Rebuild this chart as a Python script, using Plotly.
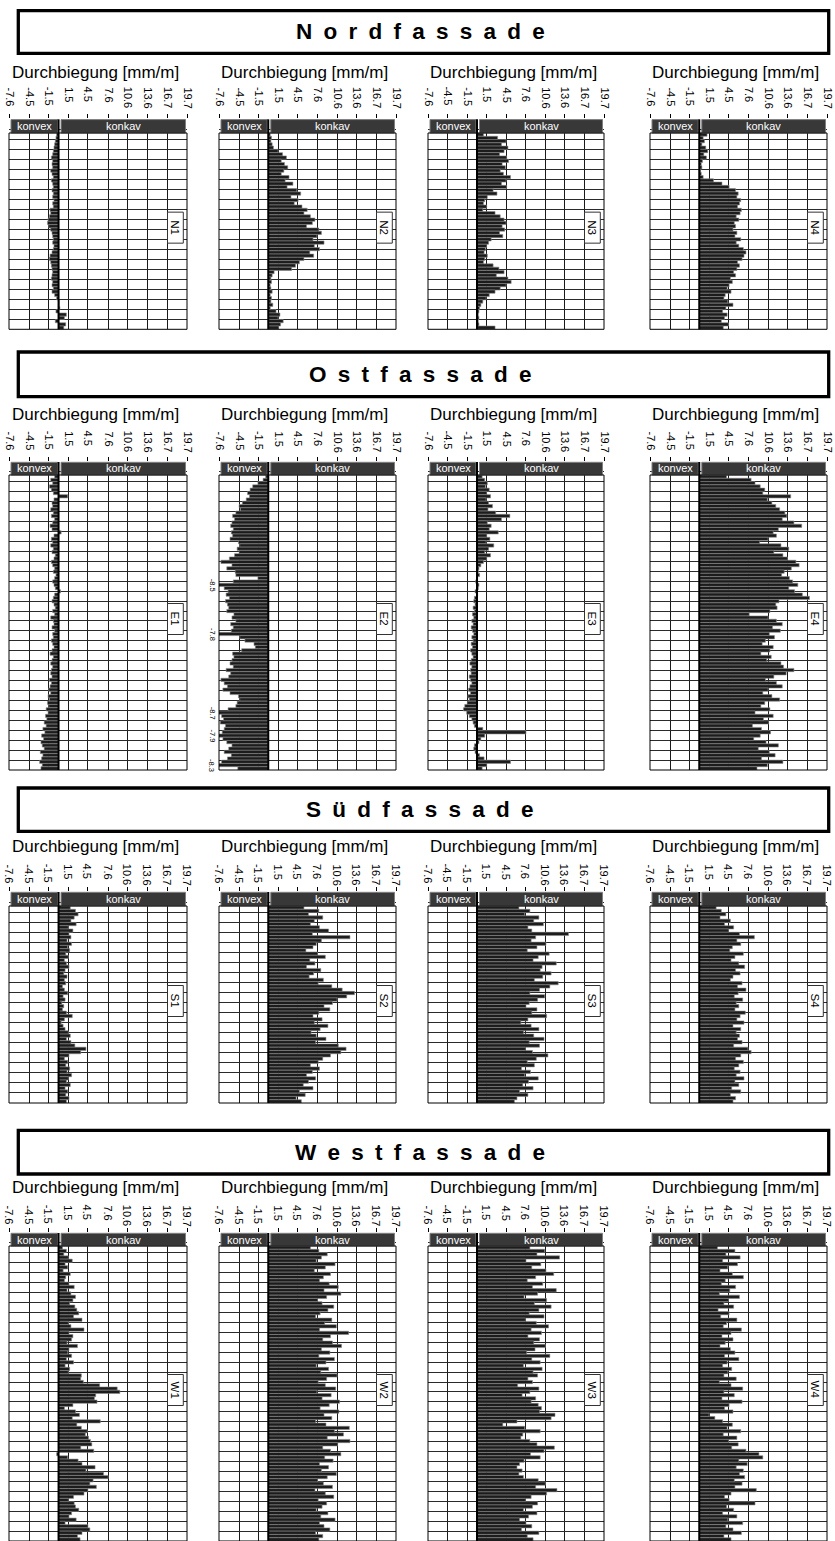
import plotly.graph_objects as go

# ---------------- data ----------------
TICK_VALUES = [-7.6, -4.5, -1.5, 1.5, 4.5, 7.6, 10.6, 13.6, 16.7, 19.7]
TICK_LABELS = ["-7.6", "-4.5", "-1.5", "1.5", "4.5", "7.6", "10.6", "13.6", "16.7", "19.7"]
X_RANGE = [-7.6, 19.7]
FACADES = ["Nordfassade", "Ostfassade", "Südfassade", "Westfassade"]
PANELS = [["N1", "N2", "N3", "N4"], ["E1", "E2", "E3", "E4"],
          ["S1", "S2", "S3", "S4"], ["W1", "W2", "W3", "W4"]]
AXIS_TITLE = "Durchbiegung [mm/m]"
ZONE_LABELS = ["konvex", "konkav"]

N1 = [-0.3, -0.4, -0.5, -0.6, -0.7, -0.8, -0.9, -1.1, -0.9, -1.0,
      -0.9, -1.2, -1.0, -0.8, -1.1, -0.9, -0.8, -1.0, -0.8, -0.9,
      -0.7, -0.9, -0.8, -1.3, -1.2, -1.4, -1.6, -1.7, -1.5, -1.2,
      -1.0, -0.9, -0.8, -0.9, -0.7, -0.8, -1.0, -1.3, -1.4, -1.2,
      -1.1, -1.0, -0.9, -1.0, -1.1, -0.9, -1.0, -0.8, -1.0, -0.6,
      -0.3, 0.1, 0.1, 0.2, -0.4, 1.2, 0.9, -0.5, 1.1, 0.8]
N2 = [0.3, 0.5, 0.4, 0.6, 0.8, 1.5, 2.2, 2.8, 2.0, 2.5,
      3.0, 2.4, 2.0, 3.2, 2.6, 3.8, 2.9, 4.4, 5.0, 3.5,
      4.6, 4.0, 5.2, 6.0, 5.5, 6.5, 7.2, 6.8, 5.9, 7.8,
      8.2, 7.5, 6.9, 8.6, 7.1, 7.9, 6.4, 7.0, 5.5, 4.8,
      4.2, 3.6, 0.9, 0.6, 0.4, 0.5, 0.3, 0.4, 0.6, 0.3,
      0.5, 0.4, 0.7, 0.3, 1.2, 1.8, 1.5, 2.3, 1.9, 1.6]
N3 = [1.0, 3.2, 4.5, 3.8, 4.8, 4.2, 3.5, 4.6, 4.9, 3.9,
      4.4, 3.6, 4.1, 5.2, 4.5, 3.8, 4.6, 2.5, 3.1, 1.6,
      1.2, 1.0, 1.5, 0.9, 2.8, 3.6, 4.2, 4.5, 3.9, 4.3,
      3.5, 4.0, 2.2, 1.8, 1.5, 1.3, 1.1, 1.6, 1.2, 1.0,
      2.5, 3.4, 4.2, 3.0, 4.8, 5.3, 4.5, 3.6, 2.8, 1.9,
      1.4, 0.9, 0.6, 0.4, 0.3, 0.2, 0.3, 0.2, 0.3, 2.8]
N4 = [1.2, 0.6, 0.8, 0.4, 1.0, 1.3, 0.7, 1.1, 0.5, 0.3,
      0.4, 0.2, 0.3, 0.6, 2.2, 3.5, 4.6, 5.6, 6.0, 5.8,
      6.4, 6.2, 5.9, 6.5, 6.3, 5.7, 6.1, 5.4, 5.6, 5.2,
      5.8, 5.5, 6.4, 5.7, 6.1, 6.8, 7.2, 6.9, 6.6, 5.9,
      6.2, 5.8, 5.3, 5.6, 4.8, 5.1, 4.6, 4.3, 4.9, 4.0,
      3.8, 4.4, 5.2, 4.1, 3.6, 4.3, 3.9, 3.4, 4.5, 3.7]

E1 = [-0.6, -1.2, -0.9, -1.4, -1.1, -0.8, 1.4, -0.7, -1.0, -0.9,
      -1.2, -0.8, -1.1, -0.6, -0.9, -1.3, -1.0, 0.4, -0.7, -1.1,
      -0.9, -1.2, -0.8, -1.0, -0.5, -0.7, -1.1, -0.9, -0.6, -0.8,
      -0.4, -0.6, -0.9, -0.7, -0.5, 0.3, -0.6, -0.8, -1.0, -0.7,
      -0.5, -0.9, -0.6, -1.2, -0.8, -0.7, -1.0, -0.6, -0.9, -0.8,
      -1.1, -0.9, -0.7, -1.0, -1.3, -0.8, -1.0, -1.2, -0.9, -1.1,
      -1.2, -1.0, -1.4, -1.1, -1.3, -1.5, -1.2, -1.6, -1.4, -1.7,
      -1.5, -1.9, -1.6, -2.0, -1.8, -2.2, -1.9, -2.4, -2.1, -2.6,
      -2.3, -2.7, -2.5, -2.2, -2.8, -2.4, -2.6, -2.9, -2.5, -2.7]
E2 = [-0.4, -0.8, -1.6, -2.4, -2.8, -3.2, -2.9, -3.4, -4.0, -4.5,
      -4.3, -5.0, -5.5, -5.2, -5.6, -5.8, -5.4, -5.7, -5.5, -5.9,
      -4.6, -4.4, -4.8, -4.5, -5.2, -6.0, -7.3, -5.6, -6.4, -5.1,
      -5.0, -1.6, -5.4, -8.5, -6.8, -6.2, -6.5, -6.0, -6.6, -6.3,
      -6.1, -6.4, -5.3, -5.6, -5.0, -5.8, -5.4, -5.7, -7.8, -4.4,
      -3.6, -2.2, -2.0, -4.1, -5.5, -5.3, -5.6, -5.9, -5.4, -6.5,
      -5.8, -6.1, -7.3, -6.8, -6.3, -7.0, -5.9, -4.6, -4.4, -4.8,
      -5.0, -6.2, -8.7, -7.2, -6.9, -7.4, -6.6, -6.8, -7.1, -7.9,
      -7.0, -6.4, -5.6, -6.1, -6.8, -5.7, -6.3, -7.2, -8.3, -4.7]
E3 = [0.8, 1.2, 1.6, 1.3, 1.9, 1.5, 2.1, 1.4, 1.8, 2.4,
      1.7, 2.9, 5.1, 3.8, 1.6, 2.2, 1.9, 3.3, 1.5, 2.0,
      1.4, 2.6, 1.8, 1.2, 2.1, 1.5, 1.0, 0.6, 0.3, 0.2,
      0.4, 0.1, -0.2, 0.3, 0.2, -0.3, 0.1, -0.4, -0.5, -0.3,
      -0.6, -0.4, -0.7, -0.5, -0.8, -0.6, -0.9, -0.7, -0.5, -0.8,
      -0.6, -0.9, -0.7, -1.0, -0.8, -0.6, -0.9, -1.1, -0.8, -1.0,
      -0.9, -1.2, -1.0, -0.8, -1.1, -1.3, -1.0, -1.4, -1.2, -1.5,
      -1.9, -2.1, -1.6, -1.2, -0.8, -0.6, -0.4, 0.9, 7.6, 1.2,
      0.6, 0.3, -0.4, -0.5, -0.3, 0.4, 1.1, 5.2, 1.5, 0.8]
E4 = [4.2, 8.0, 8.6, 9.4, 10.1, 9.8, 14.1, 10.5, 11.2, 11.8,
      12.4, 13.2, 13.5, 12.8, 14.6, 15.8, 12.2, 11.4, 11.9, 10.6,
      9.3, 12.6, 13.8, 11.5, 12.9, 13.6, 14.9, 15.4, 14.2, 13.1,
      12.7, 13.9, 14.4, 15.2, 13.8, 14.7, 15.9, 17.0, 12.3, 11.8,
      12.0, 10.9, 7.7, 10.6, 11.9, 12.8, 11.3, 12.5, 10.8, 11.6,
      10.2, 9.7, 11.4, 10.9, 9.5, 11.1, 10.4, 12.6, 13.0, 14.6,
      13.4, 11.5, 10.2, 11.9, 12.8, 10.6, 9.8, 11.2, 12.4, 10.1,
      9.5, 10.9, 8.6, 11.4, 9.9, 10.7, 8.2, 9.6, 11.0, 9.4,
      8.4, 10.3, 12.2, 9.1, 10.8, 11.7, 9.6, 12.9, 10.5, 8.9]

S1 = [1.8, 2.6, 3.0, 2.4, 1.9, 2.7, 1.5, 2.2, 1.6, 1.9,
      1.3, 2.0, 1.4, 1.7, 1.1, 1.5, 0.9, 1.2, 1.6, 1.0,
      0.8, 1.3, 0.9, 1.1, 0.6, 0.9, 1.4, 0.7, 1.0, 0.5,
      0.8, 0.6, 1.2, 2.1, 0.9, 0.4, 0.7, 1.0, 1.5, 1.8,
      1.2, 1.9, 2.5, 4.2, 3.4, 1.6, 0.9, 1.4, 1.1, 1.7,
      1.3, 2.0, 1.5, 1.2, 1.8, 1.0, 1.4, 1.1, 1.6, 1.2]
S2 = [5.5, 7.8, 6.2, 8.4, 7.1, 6.5, 7.9, 9.3, 6.8, 12.6,
      8.2, 7.4, 6.9, 5.8, 7.6, 8.8, 6.4, 7.2, 5.9, 8.1,
      7.0, 6.3, 8.5, 7.7, 9.8, 11.4, 13.3, 12.1, 10.6, 9.9,
      8.6, 9.5, 7.8, 6.9, 8.3, 7.1, 9.2, 8.0, 6.6, 7.4,
      8.9, 7.3, 10.8, 12.0, 11.2, 9.6, 8.4, 7.7, 6.5, 7.9,
      6.8, 5.9, 7.3, 6.2, 5.4, 6.9, 4.8, 5.7, 4.3, 5.1]
S3 = [6.5, 8.2, 7.4, 9.6, 8.8, 10.3, 7.9, 8.5, 14.2, 9.1,
      8.4, 10.7, 9.3, 7.8, 11.2, 9.5, 8.7, 12.3, 10.1, 9.8,
      11.5, 10.2, 8.9, 12.6, 11.3, 9.7, 8.2, 10.5, 9.4, 8.1,
      7.6, 9.3, 8.5, 10.8, 7.9, 6.8, 8.4, 9.6, 7.2, 8.8,
      10.4, 8.1, 9.7, 7.5, 8.6, 11.0, 9.2, 7.8, 8.9, 6.9,
      8.3, 7.4, 9.5, 8.0, 7.1, 8.7, 6.6, 7.9, 6.2, 5.8]
S4 = [2.6, 3.4, 4.1, 3.2, 4.8, 3.9, 5.3, 4.5, 6.2, 8.5,
      5.8, 6.4, 5.1, 4.7, 6.8, 5.5, 4.9, 6.1, 7.0, 5.6,
      6.3, 5.2, 4.8, 6.6, 5.9, 7.2, 6.0, 5.4, 6.7, 5.7,
      6.1, 5.5, 7.1, 6.3, 5.8, 6.9, 5.2, 6.4, 5.7, 6.2,
      5.9, 6.6, 5.3, 7.5, 8.0, 6.4, 5.6, 6.8, 6.1, 5.4,
      6.3, 5.7, 6.9, 5.5, 6.1, 5.0, 6.4, 4.8, 5.6, 5.2]

W1 = [0.6, 1.2, 0.8, 1.5, 2.1, 1.0, 1.4, 0.7, 1.8, 1.1,
      0.9, 1.6, 2.4, 1.3, 1.9, 2.6, 2.2, 1.7, 2.5, 2.8,
      3.1, 2.3, 3.6, 1.5, 1.9, 3.9, 1.6, 2.2, 2.0, 1.3,
      2.9, 1.6, 1.4, 2.0, 1.2, 2.3, 1.0, 1.7, 1.5, 3.5,
      3.4, 3.8, 6.3, 9.0, 9.4, 5.7, 5.5, 5.9, 2.2, 0.9,
      2.6, 3.2, 2.1, 6.4, 2.8, 3.5, 4.4, 4.1, 4.6, 4.9,
      5.1, 3.4, 5.4, -0.3, 1.4, 3.0, 3.6, 5.6, 4.2, 6.9,
      7.6, 5.3, 4.8, 5.8, 4.5, 3.9, 2.3, 1.5, 2.4, 2.6,
      3.1, 2.0, 1.6, 2.7, 1.0, 4.5, 4.8, 3.6, 2.9, 3.3]
W2 = [6.5, 7.8, 9.1, 8.2, 7.4, 10.3, 8.8, 7.1, 9.6, 8.5,
      7.9, 9.4, 10.8, 8.6, 11.2, 9.0, 7.6, 8.3, 10.1, 9.2,
      8.0, 7.3, 9.8, 8.7, 10.5, 7.9, 12.4, 9.6, 8.4, 9.9,
      11.3, 8.2, 9.5, 7.8, 10.2, 8.9, 7.4, 9.3, 8.1, 10.6,
      9.0, 7.7, 8.8, 10.4, 7.5, 9.7, 8.3, 11.0, 9.4, 8.0,
      10.9, 8.6, 9.8, 7.3, 8.9, 12.5, 10.2, 11.6, 9.1, 12.6,
      10.7, 8.4, 9.6, 11.2, 8.7, 10.0, 7.9, 9.3, 8.2, 10.5,
      9.1, 7.6, 8.5, 9.9, 7.2, 8.8, 10.1, 7.7, 9.0, 8.3,
      7.4, 9.2, 8.1, 10.3, 7.9, 8.6, 9.5, 7.3, 8.4, 7.8]
W3 = [8.2, 10.5, 9.3, 12.8, 7.6, 9.9, 8.5, 10.7, 11.9, 9.1,
      7.8, 10.2, 8.6, 12.3, 9.4, 7.3, 10.8, 8.9, 11.5, 9.6,
      8.1, 10.4, 7.5, 9.2, 11.1, 8.4, 10.0, 7.9, 9.7, 8.8,
      10.6, 9.0, 7.7, 11.3, 8.5, 9.8, 7.2, 10.1, 8.7, 9.4,
      7.9, 8.6, 6.3, 9.6, 8.2, 7.0, 9.1, 8.4, 9.5, 10.0,
      9.7, 12.1, 11.5, 6.2, 4.0, 7.4, 9.8, 7.1, 6.8, 8.2,
      9.3, 12.0, 10.4, 8.3, 9.8, 7.3, 6.6, 6.2, 7.0, 6.5,
      7.2, 9.5, 10.6, 9.1, 12.4, 10.8, 8.4, 7.5, 9.4, 8.6,
      7.2, 9.3, 8.0, 6.6, 7.6, 8.5, 6.9, 9.6, 7.8, 8.7]
W4 = [2.8, 5.5, 4.1, 6.3, 3.6, 5.9, 4.4, 3.2, 5.1, 6.8,
      4.0, 3.4, 5.6, 4.7, 3.1, 6.2, 4.5, 3.8, 5.3, 2.9,
      4.6, 3.3, 5.8, 4.2, 3.7, 6.5, 4.9, 3.5, 5.2, 4.0,
      3.2, 4.8, 5.5, 3.9, 6.1, 4.3, 3.6, 5.0, 4.4, 3.8,
      5.7, 3.1, 4.9, 6.7, 3.8, 5.4, 3.5, 6.6, 4.6, 3.9,
      5.2, 1.5, 2.4, 3.6, 5.1, 4.3, 6.4, 3.7, 5.8, 4.5,
      6.0, 5.0, 7.2, 9.2, 9.8, 6.1, 7.4, 5.7, 6.8, 6.2,
      7.0, 5.4, 6.6, 5.5, 8.8, 4.9, 3.9, 4.6, 8.6, 4.2,
      5.3, 3.6, 5.8, 4.4, 6.7, 4.1, 5.2, 6.5, 3.8, 4.9]

SERIES = {"N1": N1, "N2": N2, "N3": N3, "N4": N4,
          "E1": E1, "E2": E2, "E3": E3, "E4": E4,
          "S1": S1, "S2": S2, "S3": S3, "S4": S4,
          "W1": W1, "W2": W2, "W3": W3, "W4": W4}

# ---------------- geometry (pixels) ----------------
W, H = 835, 1541
COLS = [(9, 187), (219, 396), (428, 604), (650, 827)]
ROWS = [
    dict(box=(10.6, 53.3), durch=72, tl=85, ht=119.3, hb=133, b=329.3, cells=21),
    dict(box=(352, 396.7), durch=415, tl=429, ht=462, hb=475, b=770, cells=31),
    dict(box=(788, 831.3), durch=846, tl=862, ht=892, hb=906, b=1103, cells=21),
    dict(box=(1130.3, 1174), durch=1187, tl=1203, ht=1233, hb=1246, b=1541, cells=31),
]
FONT = "Arial, 'Liberation Sans', sans-serif"


def px(x):
    return x / W


def py(y):
    return 1 - y / H


fig = go.Figure()
shapes = []
annotations = []
layout_axes = {}

for r, row in enumerate(ROWS):
    # facade title box
    shapes.append(dict(type="rect", xref="paper", yref="paper",
                       x0=px(18.3), x1=px(828.7), y0=py(row["box"][1]), y1=py(row["box"][0]),
                       line=dict(color="black", width=3.3), fillcolor="rgba(0,0,0,0)"))
    annotations.append(dict(xref="paper", yref="paper", x=px(420),
                            y=py((row["box"][0] + row["box"][1]) / 2),
                            text="<b>" + "\u2002".join(list(FACADES[r])) + "</b>",
                            showarrow=False, font=dict(size=22.5, color="black", family=FONT),
                            xanchor="center", yanchor="middle"))
    cellpx = (row["b"] - row["ht"]) / row["cells"]
    for c, (x0p, x1p) in enumerate(COLS):
        i = r * 4 + c
        name = PANELS[r][c]
        vals = SERIES[name]
        n = len(vals)
        xa = "x" if i == 0 else f"x{i + 1}"
        ya = "y" if i == 0 else f"y{i + 1}"
        xkey = "xaxis" if i == 0 else f"xaxis{i + 1}"
        ykey = "yaxis" if i == 0 else f"yaxis{i + 1}"
        top = (row["b"] - row["hb"]) / cellpx
        w = top / n
        ypos = [top - (k + 0.5) * w for k in range(n)]
        fig.add_trace(go.Bar(x=vals, y=ypos, orientation="h", width=w,
                             marker=dict(color="#1c1c1c", line=dict(color="#8a8a8a", width=0.6)),
                             xaxis=xa, yaxis=ya, showlegend=False, hoverinfo="skip"))
        layout_axes[xkey] = dict(domain=[px(x0p), px(x1p)], range=X_RANGE, anchor=ya, side="top",
                                 tickvals=TICK_VALUES, ticks="outside", ticklen=4, tickwidth=1,
                                 tickcolor="black", showticklabels=False, showgrid=True,
                                 gridcolor="#1a1a1a", gridwidth=1, zeroline=False, showline=False,
                                 fixedrange=True)
        layout_axes[ykey] = dict(domain=[py(row["b"]), py(row["ht"])], range=[0, row["cells"]],
                                 anchor=xa, tick0=0, dtick=1, showgrid=True, gridcolor="#2a2a2a",
                                 gridwidth=1, showticklabels=False, ticks="", zeroline=False,
                                 showline=False, fixedrange=True)
        upx = (X_RANGE[1] - X_RANGE[0]) / (x1p - x0p)  # data units per pixel
        # header zone boxes
        zones = [(X_RANGE[0] + 2 * upx, -1 * upx), (2.5 * upx, X_RANGE[1] - 1.5 * upx)]
        for (zx0, zx1), ztxt in zip(zones, ZONE_LABELS):
            shapes.append(dict(type="rect", xref=xa, yref="paper", x0=zx0, x1=zx1,
                               y0=py(row["hb"]), y1=py(row["ht"] + 0.3), layer="above",
                               fillcolor="#383838", line=dict(color="#808080", width=1)))
            annotations.append(dict(xref=xa, yref="paper", x=(zx0 + zx1) / 2,
                                    y=py((row["ht"] + row["hb"]) / 2), text=ztxt, showarrow=False,
                                    font=dict(size=11, color="white", family=FONT),
                                    xanchor="center", yanchor="middle"))
        # zero line
        shapes.append(dict(type="line", xref=xa, yref="paper", x0=0, x1=0,
                           y0=py(row["b"]), y1=py(row["ht"]), layer="above",
                           line=dict(color="black", width=2)))
        # plot border
        shapes.append(dict(type="rect", xref="paper", yref="paper", x0=px(x0p), x1=px(x1p),
                           y0=py(row["b"]), y1=py(row["hb"]), layer="above",
                           line=dict(color="black", width=1), fillcolor="rgba(0,0,0,0)"))
        # axis title
        annotations.append(dict(xref="paper", yref="paper", x=px((x0p + x1p) / 2 - 3),
                                y=py(row["durch"]), text=AXIS_TITLE, showarrow=False,
                                font=dict(size=17, color="black", family=FONT),
                                xanchor="center", yanchor="middle"))
        # tick labels (rotated, top-aligned)
        for tv, tl in zip(TICK_VALUES, TICK_LABELS):
            annotations.append(dict(xref=xa, yref="paper", x=tv, y=py(row["tl"]), text=tl,
                                    textangle=90, showarrow=False,
                                    font=dict(size=11, color="black", family=FONT),
                                    xanchor="center", yanchor="top"))
        # panel label box
        cy = (row["hb"] + row["b"]) / 2 - 3.5
        shapes.append(dict(type="rect", xref="paper", yref="paper",
                           x0=px(x1p - 19.5), x1=px(x1p - 3.7), y0=py(cy + 15.5), y1=py(cy - 15.5),
                           layer="above", fillcolor="white", line=dict(color="#333", width=1)))
        annotations.append(dict(xref="paper", yref="paper", x=px(x1p - 11.6), y=py(cy),
                                text=name, textangle=90, showarrow=False,
                                font=dict(size=11.5, color="black", family=FONT),
                                xanchor="center", yanchor="middle"))
        # labels for values beyond the axis range
        for v, yv in zip(vals, ypos):
            if v < X_RANGE[0]:
                annotations.append(dict(xref="paper", yref=ya, x=px(x0p - 7), y=yv,
                                        text=f"{v}", textangle=90, showarrow=False,
                                        font=dict(size=7.5, color="black", family=FONT),
                                        xanchor="center", yanchor="middle"))

fig.update_layout(width=W, height=H, margin=dict(l=0, r=0, t=0, b=0),
                  paper_bgcolor="white", plot_bgcolor="white",
                  shapes=shapes, annotations=annotations, bargap=0,
                  font=dict(family=FONT), **layout_axes)
fig.write_html("out.html", config={"displayModeBar": False, "staticPlot": True},
               post_script="document.body.style.margin='0';document.body.style.padding='0';"
                           "document.body.style.overflow='hidden';"
                           "document.documentElement.style.overflow='hidden';")
